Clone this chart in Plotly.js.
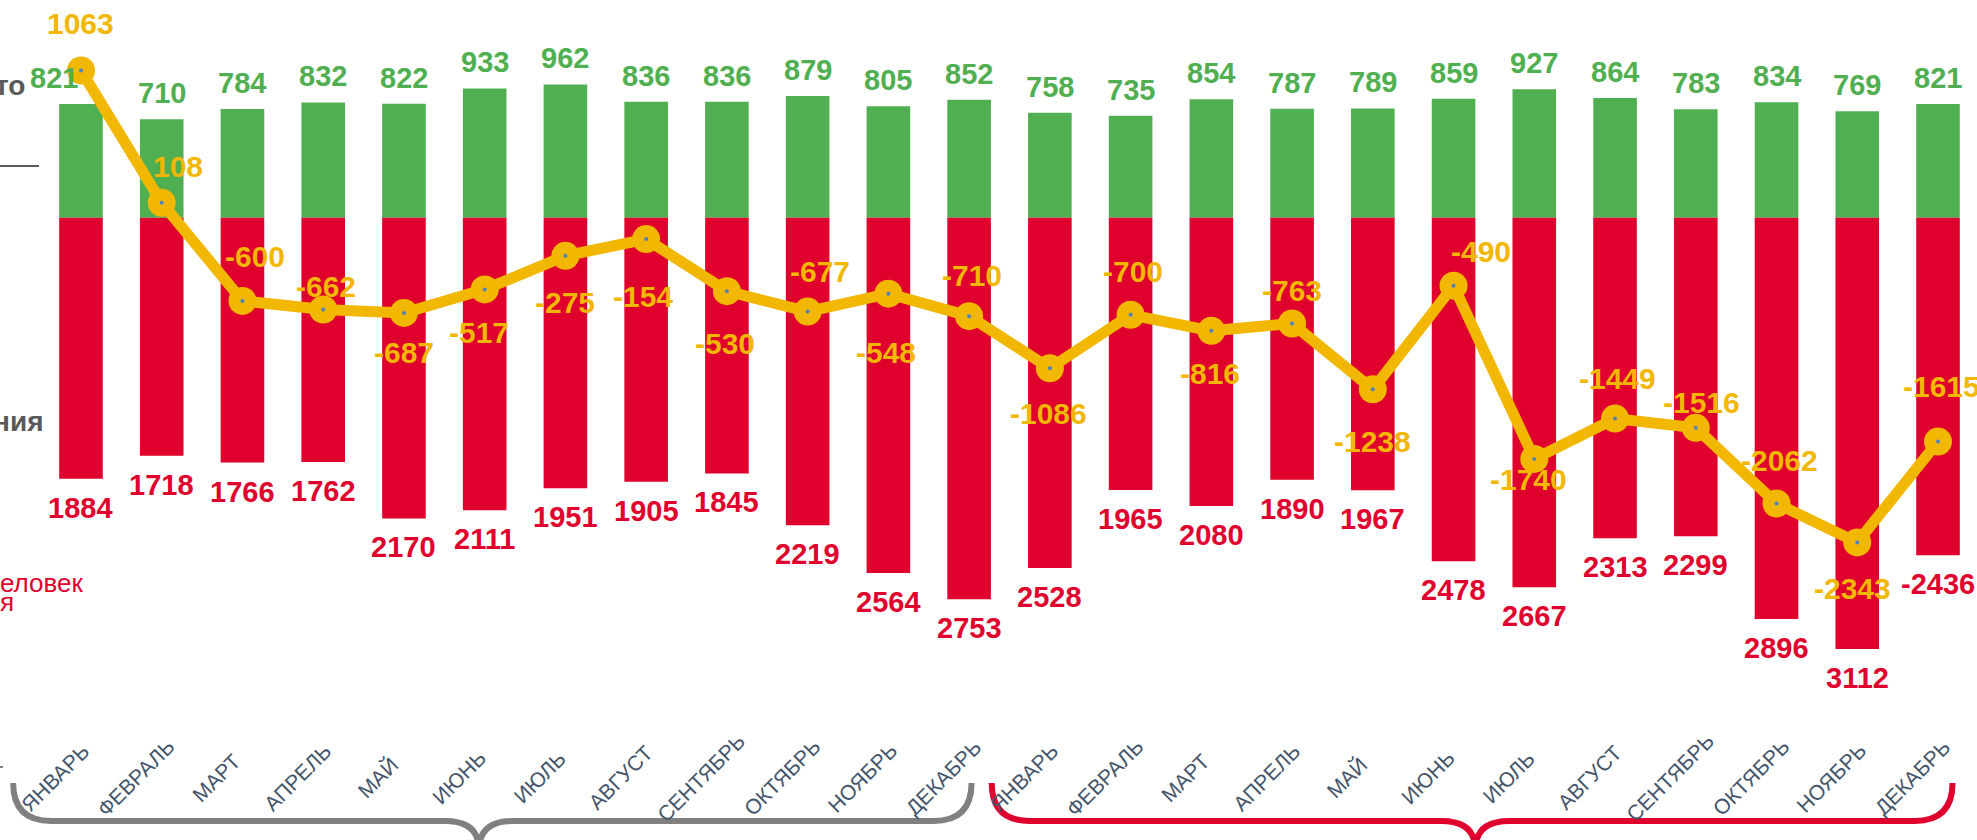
<!DOCTYPE html>
<html>
<head>
<meta charset="utf-8">
<script src="https://cdn.plot.ly/plotly-3.0.1.min.js"></script>
<style>html,body{margin:0;padding:0;background:#fff;}#chart{width:1977px;height:840px;}</style>
</head>
<body>
<div id="chart"></div>
<script>
// ---- data ----
const months = ['ЯНВАРЬ','ФЕВРАЛЬ','МАРТ','АПРЕЛЬ','МАЙ','ИЮНЬ','ИЮЛЬ','АВГУСТ','СЕНТЯБРЬ','ОКТЯБРЬ','НОЯБРЬ','ДЕКАБРЬ'];
const categories = months.concat(months);
const arrivals = [821,710,784,832,822,933,962,836,836,879,805,852,
                  758,735,854,787,789,859,927,864,783,834,769,821];
const departures = [1884,1718,1766,1762,2170,2111,1951,1905,1845,2219,2564,2753,
                    2528,1965,2080,1890,1967,2478,2667,2313,2299,2896,3112,2436];
const departureLabels = ['1884','1718','1766','1762','2170','2111','1951','1905','1845','2219','2564','2753',
                         '2528','1965','2080','1890','1967','2478','2667','2313','2299','2896','3112','-2436'];
const net = [1063,108,-600,-662,-687,-517,-275,-154,-530,-677,-548,-710,
             -1086,-700,-816,-763,-1238,-490,-1740,-1449,-1516,-2062,-2343,-1615];

// ---- styling (label offsets in px: [dx, dy], dy down positive) ----
const netLabelShift = [[0,-47],[16,-36],[13,-44],[3,-23],[0,40],[-6,43],[0,47],[-3,57],[-2,52],[12,-40],[-2,59],[3,-41],
                       [-1,45],[2,-43],[-1,43],[0,-33],[0,52],[27,-34],[-6,21],[2,-40],[6,-25],[3,-43],[-5,46],[3,-55]];
const arrivalLabelDx = [-27,0,0,0,0,0,0,0,0,0,0,0, 0,0,0,0,0,0,0,0,0,0,0,0];

const GREEN = '#50AF50', RED = '#E0002D', GOLD = '#F2B700', SLATE = '#44546A';
const FONT = 'Liberation Sans, Arial, sans-serif';
const W = 1977, H = 840, MB = 115, PH = H - MB;
const XR = [-1.003, 23.483];
const YR = [-3660, 1571];

const idx = categories.map((_, i) => i);

const traces = [
  {type:'bar', x: idx, y: arrivals, marker:{color:GREEN}, hoverinfo:'skip'},
  {type:'bar', x: idx, y: departures.map(v => -v), marker:{color:RED}, hoverinfo:'skip'},
  {type:'scatter', mode:'lines+markers', x: idx, y: net,
   line:{color:GOLD, width:11}, marker:{color:GOLD, size:28}, hoverinfo:'skip'},
  {type:'scatter', mode:'markers', x: idx, y: net,
   marker:{color:'#4F81BD', size:4}, hoverinfo:'skip'}
];

const px2p = (px, py) => [px / W, (PH - py) / PH];

const ann = [];
arrivals.forEach((v, i) => ann.push({x:i, y:v, xref:'x', yref:'y', text:String(v), showarrow:false,
  xanchor:'center', yanchor:'bottom', xshift: arrivalLabelDx[i], yshift:8,
  font:{family:FONT, size:29, color:GREEN, weight:'bold'}}));
departures.forEach((v, i) => ann.push({x:i, y:-v, xref:'x', yref:'y', text:departureLabels[i], showarrow:false,
  xanchor:'center', yanchor:'top', yshift:-11,
  font:{family:FONT, size:29, color:RED, weight:'bold'}}));
net.forEach((v, i) => ann.push({x:i, y:v, xref:'x', yref:'y', text:String(v), showarrow:false,
  xanchor:'center', yanchor:'middle', xshift: netLabelShift[i][0], yshift: -netLabelShift[i][1],
  font:{family:FONT, size:30, color:GOLD, weight:'bold'}}));
// category labels, rotated about their centre
categories.forEach((c, i) => ann.push({x:i, y: px2p(0, 777)[1], xref:'x', yref:'paper', text:c, showarrow:false,
  xanchor:'center', yanchor:'middle', xshift:-26, textangle:-45,
  font:{family:FONT, size:21, color:SLATE}}));

// cropped side captions
function sideText(text, py, color, size, bold, dx) {
  const p = px2p(0, py);
  ann.push({x: p[0], y: p[1], xref:'paper', yref:'paper', text, showarrow:false,
    xanchor:'left', yanchor:'middle', xshift: dx,
    font:{family:FONT, size, color, weight: bold ? 'bold' : 'normal'}});
}
sideText('то', 85, '#595959', 28, true, -7);
sideText('ния', 421, '#595959', 28, true, -9);
sideText('еловек', 583, RED, 26, false, -2);
sideText('я', 602, RED, 26, false, -2);

// braces under the two years
const idxToPx = i => (i - XR[0]) / (XR[1] - XR[0]) * W;
function bracePath(i0, i1, im) {
  const x0 = idxToPx(i0), x1 = idxToPx(i1), xm = idxToPx(im);
  const top = 783, base = 821, tip = 850, r = 38, rm = 34;
  const P = (x, y) => { const p = px2p(x, y); return p[0].toFixed(5) + ',' + p[1].toFixed(5); };
  return 'M' + P(x0, top) + ' Q' + P(x0, base) + ' ' + P(x0 + r, base) +
         ' L' + P(xm - rm, base) + ' Q' + P(xm, base) + ' ' + P(xm, tip) +
         ' Q' + P(xm, base) + ' ' + P(xm + rm, base) +
         ' L' + P(x1 - r, base) + ' Q' + P(x1, base) + ' ' + P(x1, top);
}
const shapes = [
  {type:'path', xref:'paper', yref:'paper', path: bracePath(-0.84, 11.03, 4.93), line:{color:'#808080', width:6}},
  {type:'path', xref:'paper', yref:'paper', path: bracePath(11.28, 23.18, 17.27), line:{color:RED, width:6}},
  {type:'line', xref:'paper', yref:'paper', x0:0, x1: px2p(39,0)[0], y0: px2p(0,166)[1], y1: px2p(0,166)[1],
   line:{color:'#595959', width:2}},
  {type:'line', xref:'paper', yref:'paper', x0:0, x1: px2p(3,0)[0], y0: px2p(0,767)[1], y1: px2p(0,767)[1],
   line:{color:'#808080', width:2}}
];

const layout = {
  width: W, height: H,
  margin: {l:0, r:0, t:0, b:MB, pad:0},
  paper_bgcolor:'#ffffff', plot_bgcolor:'#ffffff',
  showlegend:false,
  barmode:'relative', bargap:0.46,
  font:{family:FONT},
  xaxis:{type:'linear', range:XR, showticklabels:false,
         showgrid:false, zeroline:false, showline:false, ticks:'', automargin:false},
  yaxis:{range:YR, showgrid:false, zeroline:false, showline:false, showticklabels:false, ticks:'', automargin:false},
  annotations: ann,
  shapes: shapes
};

Plotly.newPlot('chart', traces, layout, {displayModeBar:false, staticPlot:true});
</script>
</body>
</html>
